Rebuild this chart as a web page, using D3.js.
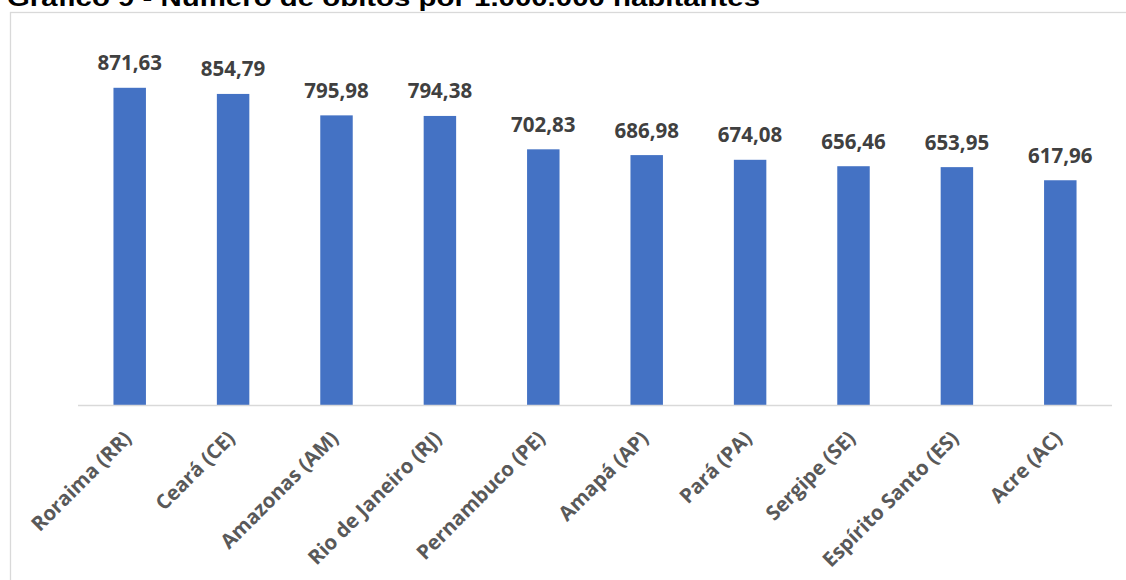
<!DOCTYPE html>
<html>
<head>
<meta charset="utf-8">
<script src="https://cdn.jsdelivr.net/npm/d3@7"></script>
<style>
  html, body { margin: 0; padding: 0; background: #ffffff; }
  svg { display: block; }
</style>
</head>
<body>
<svg id="chart" width="1126" height="580"></svg>
<script>
const title = "Gráfico 9 - Número de óbitos por 1.000.000 habitantes";
const categories = ["Roraima (RR)", "Ceará (CE)", "Amazonas (AM)", "Rio de Janeiro (RJ)", "Pernambuco (PE)", "Amapá (AP)", "Pará (PA)", "Sergipe (SE)", "Espírito Santo (ES)", "Acre (AC)"];
const values = [871.63, 854.79, 795.98, 794.38, 702.83, 686.98, 674.08, 656.46, 653.95, 617.96];
const yDomain = [0, 1000];

const svg = d3.select("#chart");
const W = 1126, H = 580;

// chart frame
svg.append("rect")
  .attr("x", 10.5).attr("y", 12.5)
  .attr("width", W + 20).attr("height", H + 20)
  .attr("fill", "#ffffff")
  .attr("stroke", "#d9d9d9").attr("stroke-width", 1.3);

// title (partially cut at top, as in the reference)
svg.append("text")
  .attr("x", 7).attr("y", 6)
  .attr("font-family", "Liberation Sans, Arial, sans-serif")
  .attr("font-weight", "bold")
  .attr("font-size", 24)
  .attr("fill", "#000000")
  .attr("textLength", 753)
  .attr("lengthAdjust", "spacingAndGlyphs")
  .text(title);

const plot = { left: 78, right: 1112, top: 41, bottom: 405.5 };

const x = d3.scaleBand()
  .domain(categories)
  .range([plot.left, plot.right])
  .paddingInner(0.686)
  .paddingOuter(0.343);

const y = d3.scaleLinear().domain(yDomain).range([plot.bottom, plot.top]);

const data = categories.map((c, i) => ({ c, v: values[i] }));

// bars
svg.append("g").selectAll("rect")
  .data(data)
  .join("rect")
  .attr("x", d => x(d.c))
  .attr("y", d => y(d.v))
  .attr("width", x.bandwidth())
  .attr("height", d => y(0) - y(d.v))
  .attr("fill", "#4472c4");

// baseline axis
const xAxis = d3.axisBottom(x).tickSize(0).tickFormat("");
const axisG = svg.append("g")
  .attr("transform", `translate(0,${plot.bottom})`)
  .call(xAxis);
axisG.select(".domain").attr("stroke", "#d9d9d9").attr("stroke-width", 1.5)
  .attr("d", `M${plot.left},0H${plot.right}`);

// value labels
const fmt = v => d3.format(".2f")(v).replace(".", ",");
svg.append("g").selectAll("text")
  .data(data)
  .join("text")
  .attr("x", d => x(d.c) + x.bandwidth() / 2)
  .attr("y", d => y(d.v) - 17.5)
  .attr("text-anchor", "middle")
  .attr("font-family", "Open Sans, sans-serif")
  .attr("font-weight", "bold")
  .attr("font-size", 20.5)
  .attr("fill", "#404040")
  .text(d => fmt(d.v));

// category labels
svg.append("g").selectAll("text")
  .data(data)
  .join("text")
  .attr("transform", d => `translate(${x(d.c) + x.bandwidth() / 2 - 2},${plot.bottom + 29}) rotate(-45)`)
  .attr("text-anchor", "end")
  .attr("dy", "0.35em")
  .attr("font-family", "Open Sans, sans-serif")
  .attr("font-weight", "bold")
  .attr("font-size", 20.3)
  .attr("fill", "#595959")
  .text(d => d.c);
</script>
</body>
</html>
